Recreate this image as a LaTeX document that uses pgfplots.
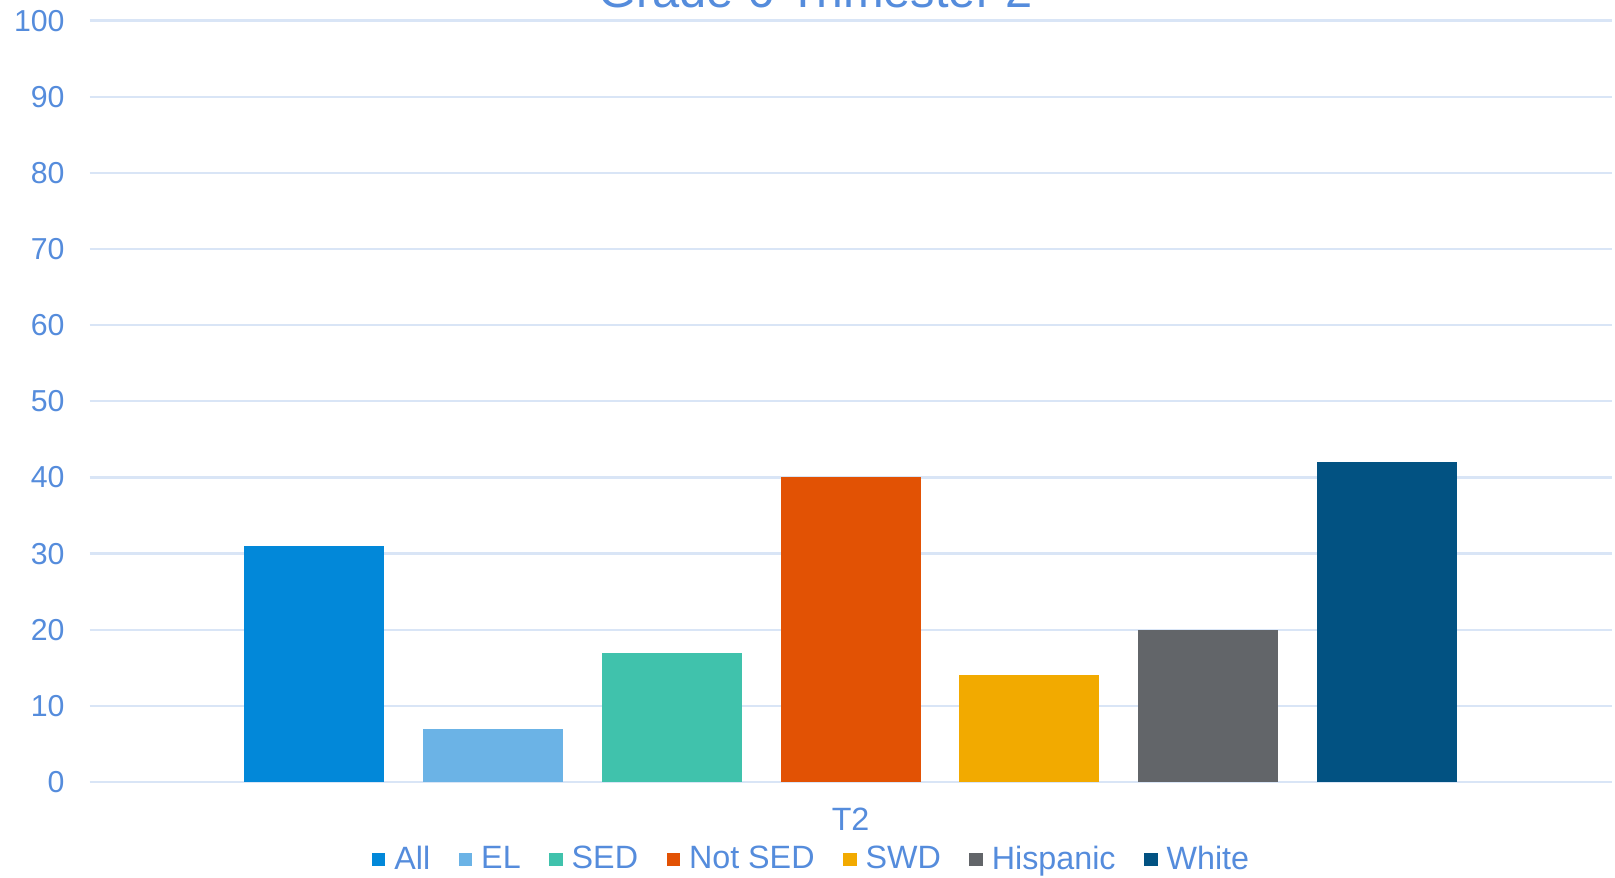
\documentclass[border=0pt]{standalone}
\usepackage{pgfplots}
\pgfplotsset{compat=1.18}
\usepackage{fontspec}
\setmainfont{Liberation Sans}
\definecolor{txt}{HTML}{558CDC}
\definecolor{gridc}{HTML}{D9E5F6}
\definecolor{cAll}{HTML}{0288D9}
\definecolor{cEL}{HTML}{6BB3E6}
\definecolor{cSED}{HTML}{40C2AC}
\definecolor{cNot}{HTML}{E25204}
\definecolor{cSWD}{HTML}{F2AA00}
\definecolor{cHis}{HTML}{626569}
\definecolor{cWhi}{HTML}{025282}
\begin{document}
\begin{tikzpicture}
\begin{axis}[
  name=ax,
  scale only axis, width=761bp, height=380.7bp,
  ybar=19.35bp, bar width=70bp,
  xmin=-1, xmax=1, ymin=0, ymax=100,
  axis line style={draw=none},
  ymajorgrids, grid style={color=gridc, line width=1.2bp},
  major tick length=0pt,
  ytick={0,10,...,100},
  xtick={0}, xticklabels={T2},
  /pgf/number format/assume math mode=true,
  yticklabel style={font=\fontsize{15.2}{18}\selectfont, text=txt, xshift=-9bp},
  xticklabel style={font=\fontsize{16.2}{20}\selectfont, text=txt, anchor=base, yshift=-24.3bp},
  legend columns=7,
  legend style={at={(0.475,0)}, anchor=center, yshift=-38.5bp, draw=none, fill=none,
    font=\fontsize{16.2}{20}\selectfont, text=txt,
    /tikz/every odd column/.append style={column sep=2.5bp},
    /tikz/every even column/.append style={column sep=12.3bp}},
  legend image code/.code={\fill[#1] (0bp,-3.6bp) rectangle (6.7bp,3.1bp);},
]
\addplot[fill=cAll, draw=none] coordinates {(0,31)};
\addplot[fill=cEL, draw=none] coordinates {(0,7)};
\addplot[fill=cSED, draw=none] coordinates {(0,17)};
\addplot[fill=cNot, draw=none] coordinates {(0,40)};
\addplot[fill=cSWD, draw=none] coordinates {(0,14)};
\addplot[fill=cHis, draw=none] coordinates {(0,20)};
\addplot[fill=cWhi, draw=none] coordinates {(0,42)};
\legend{All, EL, SED, Not SED, SWD, Hispanic, White}
\end{axis}
\node[anchor=base, font=\fontsize{24.5}{28}\selectfont, text=txt] at ([xshift=-17.5bp, yshift=6.5bp]ax.north) {Grade 6 Trimester 2};
\pgfresetboundingbox
\useasboundingbox (-44.8bp,-48bp) rectangle (762.7bp,391bp);
\end{tikzpicture}
\end{document}
